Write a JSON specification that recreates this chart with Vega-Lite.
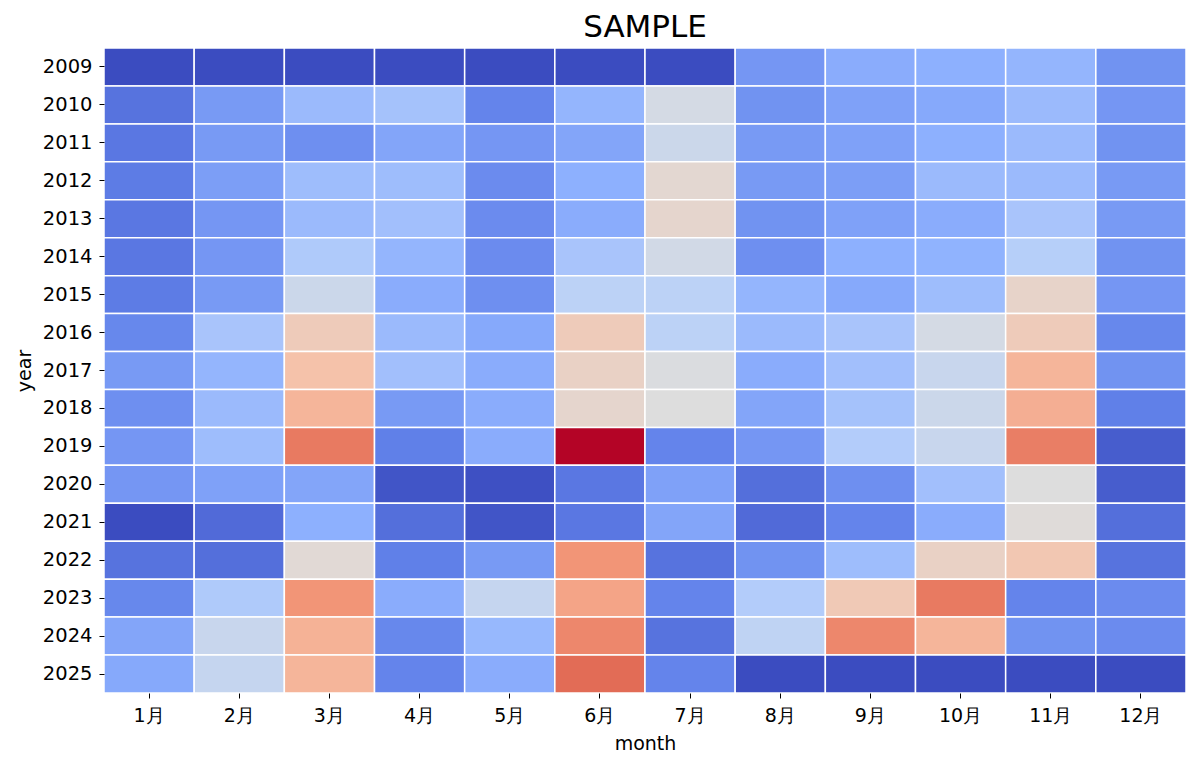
{
  "$schema": "https://vega.github.io/schema/vega-lite/v6.json",
  "width": 1082,
  "height": 645,
  "autosize": {"type": "none"},
  "padding": {"left": 104, "top": 48, "right": 14, "bottom": 74},
  "background": "white",
  "title": {"text": "SAMPLE", "fontSize": 31, "font": "DejaVu Sans", "fontWeight": "normal", "color": "black", "offset": 3, "anchor": "middle"},
  "config": {"view": {"stroke": null}},
  "data": {"values": [
    {"year": 2009, "1月": 0.0, "2月": 0.0, "3月": 0.0, "4月": 0.0, "5月": 0.0, "6月": 0.0, "7月": 0.0, "8月": 0.18, "9月": 0.24, "10月": 0.25, "11月": 0.27, "12月": 0.17},
    {"year": 2010, "1月": 0.09, "2月": 0.19, "3月": 0.29, "4月": 0.32, "5月": 0.13, "6月": 0.27, "7月": 0.47, "8月": 0.17, "9月": 0.21, "10月": 0.23, "11月": 0.29, "12月": 0.18},
    {"year": 2011, "1月": 0.10, "2月": 0.19, "3月": 0.16, "4月": 0.22, "5月": 0.18, "6月": 0.22, "7月": 0.44, "8月": 0.19, "9月": 0.21, "10月": 0.25, "11月": 0.29, "12月": 0.17},
    {"year": 2012, "1月": 0.11, "2月": 0.20, "3月": 0.30, "4月": 0.30, "5月": 0.15, "6月": 0.25, "7月": 0.53, "8月": 0.19, "9月": 0.20, "10月": 0.29, "11月": 0.29, "12月": 0.19},
    {"year": 2013, "1月": 0.10, "2月": 0.18, "3月": 0.29, "4月": 0.31, "5月": 0.15, "6月": 0.24, "7月": 0.54, "8月": 0.17, "9月": 0.21, "10月": 0.24, "11月": 0.33, "12月": 0.19},
    {"year": 2014, "1月": 0.10, "2月": 0.18, "3月": 0.35, "4月": 0.27, "5月": 0.15, "6月": 0.33, "7月": 0.46, "8月": 0.16, "9月": 0.25, "10月": 0.26, "11月": 0.37, "12月": 0.17},
    {"year": 2015, "1月": 0.11, "2月": 0.19, "3月": 0.44, "4月": 0.24, "5月": 0.16, "6月": 0.39, "7月": 0.39, "8月": 0.27, "9月": 0.23, "10月": 0.30, "11月": 0.55, "12月": 0.18},
    {"year": 2016, "1月": 0.14, "2月": 0.33, "3月": 0.59, "4月": 0.29, "5月": 0.23, "6月": 0.59, "7月": 0.39, "8月": 0.29, "9月": 0.33, "10月": 0.47, "11月": 0.59, "12月": 0.14},
    {"year": 2017, "1月": 0.19, "2月": 0.27, "3月": 0.63, "4月": 0.31, "5月": 0.24, "6月": 0.56, "7月": 0.49, "8月": 0.24, "9月": 0.31, "10月": 0.43, "11月": 0.67, "12月": 0.17},
    {"year": 2018, "1月": 0.16, "2月": 0.29, "3月": 0.67, "4月": 0.19, "5月": 0.24, "6月": 0.54, "7月": 0.50, "8月": 0.22, "9月": 0.32, "10月": 0.44, "11月": 0.69, "12月": 0.12},
    {"year": 2019, "1月": 0.18, "2月": 0.30, "3月": 0.82, "4月": 0.12, "5月": 0.24, "6月": 1.0, "7月": 0.13, "8月": 0.18, "9月": 0.36, "10月": 0.43, "11月": 0.81, "12月": 0.04},
    {"year": 2020, "1月": 0.18, "2月": 0.21, "3月": 0.22, "4月": 0.02, "5月": 0.01, "6月": 0.10, "7月": 0.21, "8月": 0.08, "9月": 0.16, "10月": 0.31, "11月": 0.50, "12月": 0.04},
    {"year": 2021, "1月": 0.0, "2月": 0.07, "3月": 0.25, "4月": 0.08, "5月": 0.02, "6月": 0.10, "7月": 0.22, "8月": 0.07, "9月": 0.13, "10月": 0.24, "11月": 0.51, "12月": 0.08},
    {"year": 2022, "1月": 0.09, "2月": 0.08, "3月": 0.52, "4月": 0.12, "5月": 0.19, "6月": 0.76, "7月": 0.09, "8月": 0.17, "9月": 0.30, "10月": 0.56, "11月": 0.61, "12月": 0.09},
    {"year": 2023, "1月": 0.14, "2月": 0.35, "3月": 0.76, "4月": 0.24, "5月": 0.42, "6月": 0.72, "7月": 0.13, "8月": 0.36, "9月": 0.60, "10月": 0.82, "11月": 0.13, "12月": 0.15},
    {"year": 2024, "1月": 0.22, "2月": 0.43, "3月": 0.68, "4月": 0.14, "5月": 0.28, "6月": 0.79, "7月": 0.09, "8月": 0.40, "9月": 0.79, "10月": 0.67, "11月": 0.17, "12月": 0.15},
    {"year": 2025, "1月": 0.23, "2月": 0.42, "3月": 0.67, "4月": 0.13, "5月": 0.24, "6月": 0.85, "7月": 0.13, "8月": 0.0, "9月": 0.0, "10月": 0.0, "11月": 0.0, "12月": 0.0}
  ]},
  "transform": [
    {"fold": ["1月", "2月", "3月", "4月", "5月", "6月", "7月", "8月", "9月", "10月", "11月", "12月"], "as": ["month", "value"]}
  ],
  "mark": {"type": "rect", "stroke": "white", "strokeWidth": 1.5},
  "encoding": {
    "x": {
      "field": "month", "type": "ordinal",
      "sort": ["1月", "2月", "3月", "4月", "5月", "6月", "7月", "8月", "9月", "10月", "11月", "12月"],
      "scale": {"paddingInner": 0, "paddingOuter": 0},
      "axis": {"title": "month", "labelAngle": 0, "labelFont": "DejaVu Sans", "labelFontSize": 19, "labelColor": "black", "labelPadding": 8, "tickColor": "black", "tickSize": 5, "domain": false, "titleFont": "DejaVu Sans", "titleFontSize": 19, "titleFontWeight": "normal", "titleColor": "black", "titlePadding": 9}
    },
    "y": {
      "field": "year", "type": "ordinal",
      "scale": {"paddingInner": 0, "paddingOuter": 0},
      "axis": {"title": "year", "labelFont": "DejaVu Sans", "labelFontSize": 19.5, "labelColor": "black", "labelPadding": 7, "tickColor": "black", "tickSize": 5, "domain": false, "titleFont": "DejaVu Sans", "titleFontSize": 19, "titleFontWeight": "normal", "titleColor": "black", "titlePadding": 8}
    },
    "color": {
      "field": "value", "type": "quantitative",
      "scale": {
        "domain": [0, 0.125, 0.25, 0.375, 0.5, 0.625, 0.75, 0.875, 1],
        "range": ["#3b4cc0", "#6282ea", "#8db0fe", "#b8d0f9", "#dddddd", "#f5c4ac", "#f49a7b", "#de604d", "#b40426"],
        "interpolate": "rgb"
      },
      "legend": null
    }
  }
}
